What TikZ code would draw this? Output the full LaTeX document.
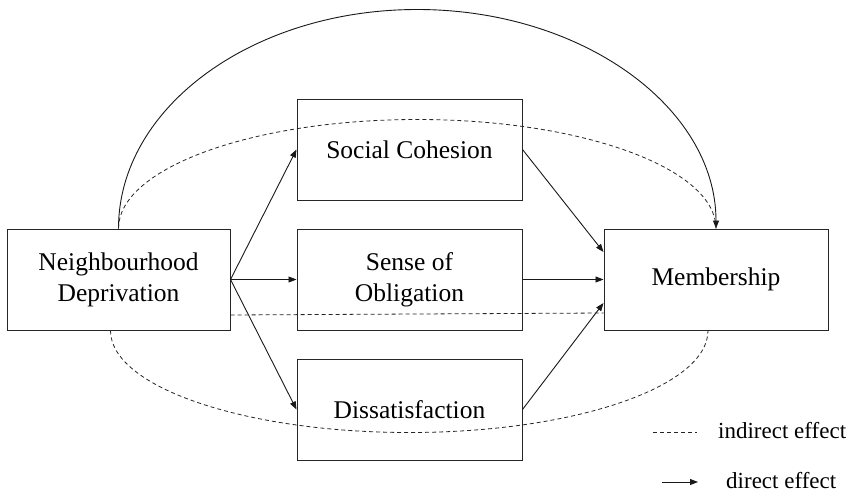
\documentclass[tikz,border=0pt]{standalone}
\usepackage{fontspec}
\setmainfont{Liberation Serif}
\usetikzlibrary{arrows.meta}
\tikzset{
  box/.style={draw=black!85, line width=1pt, inner sep=0pt, align=center,
    font=\fontsize{25.5}{31}\selectfont},
  direct/.style={draw=black!90, line width=0.9pt, -{Triangle[length=8pt,width=6pt]}},
  indirect/.style={draw=black!85, line width=0.8pt, dash pattern=on 4pt off 3pt},
  legtext/.style={anchor=west, inner sep=0pt, font=\fontsize{23}{28}\selectfont}
}
\begin{document}
\begin{tikzpicture}[x=1pt,y=1pt]
\useasboundingbox (0,0) rectangle (848,-495);
\fill[white] (0,0) rectangle (848,-495);
% boxes
\node[box, minimum width=223pt, minimum height=101pt] (nd) at (118.5,-279.5) {Neighbourhood\\Deprivation};
\node[box, minimum width=225pt, minimum height=101pt] (sc) at (409.5,-149.5) {Social Cohesion};
\node[box, minimum width=225pt, minimum height=101pt] (so) at (409.5,-279.5) {Sense of\\Obligation};
\node[box, minimum width=225pt, minimum height=101pt] (ds) at (409.5,-409.5) {Dissatisfaction};
\node[box, minimum width=224pt, minimum height=101pt] (m) at (716,-279.5) {Membership};
% direct paths
\draw[direct] (nd.east) -- (sc.west);
\draw[direct] (nd.east) -- (so.west);
\draw[direct] (nd.east) -- (ds.west);
\draw[direct] (sc.east) -- ([yshift=27.5pt]m.west);
\draw[direct] (so.east) -- (m.west);
\draw[direct] (ds.east) -- ([yshift=-23.5pt]m.west);
\draw[direct] (nd.north) arc[start angle=180, end angle=0, x radius=298.75pt, y radius=219pt];
% indirect paths
\draw[indirect] (nd.north) arc[start angle=180, end angle=0, x radius=298.75pt, y radius=109pt];
\draw[indirect] ([yshift=-35.5pt]nd.east) -- ([yshift=-33.5pt]m.west);
\draw[indirect] ([xshift=-8pt]nd.south) arc[start angle=180, end angle=360, x radius=298.75pt, y radius=102pt];
% legend
\coordinate (la) at (653,-432);
\coordinate (lb) at (697,-432);
\coordinate (lc) at (662,-482);
\coordinate (ld) at (698,-482);
\draw[indirect] (la) -- (lb);
\draw[direct] (lc) -- (ld);
\node[legtext] (lt1) at (718,-431) {indirect effect};
\node[legtext] (lt2) at (726,-481) {direct effect};
\end{tikzpicture}
\end{document}
